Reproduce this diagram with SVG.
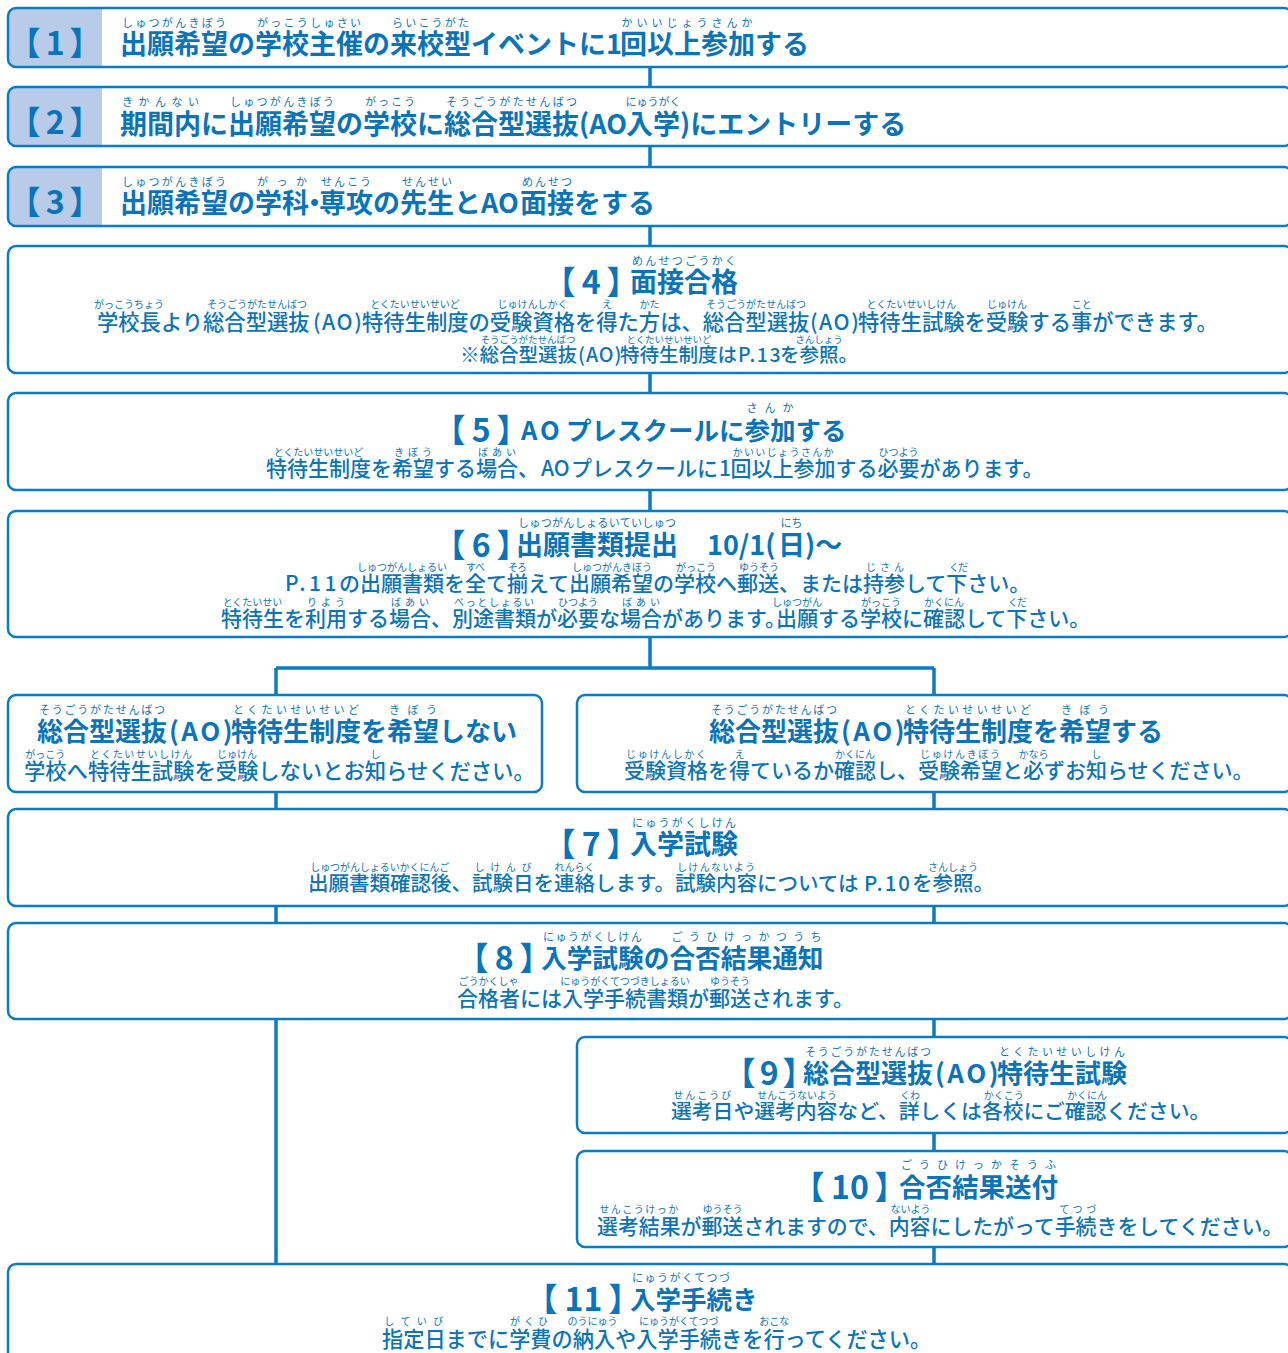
<svg xmlns="http://www.w3.org/2000/svg" width="1288" height="1353" viewBox="0 0 1288 1353">
<style>
text{font-family:"Noto Sans CJK JP","Noto Sans",sans-serif;fill:#0a74bb;dominant-baseline:central}
.bx{fill:none;stroke:#0b7bc2;stroke-width:2.5}
.lc{fill:#b8cbe9}
.ln{fill:none;stroke:#0b7bc2;stroke-width:3.5}
.lab{font-size:32px;font-weight:700}
.t{font-size:27px;font-weight:700}
.b{font-size:21px;font-weight:500}
.r{font-size:11px;text-anchor:middle}
.rs{font-size:10px;text-anchor:middle}
</style>
<rect width="1288" height="1353" fill="#fff"/>
<g id="connectors">
<path class="ln" d="M650,67V87M650,146V167M650,226V246M650,373V393M650,490V511M650,637V668M276,668H934M276,668V695M934,668V695M276,792V809M934,792V809M276,906V923M934,906V923M276,1019V1264M934,1019V1037M934,1133V1151M934,1247V1264"/>
</g>
<g id="n1">
<path class="lc" d="M102,8H16A8,8 0 0 0 8,16V59A8,8 0 0 0 16,67H102Z"/>
<rect class="bx" x="8" y="8" width="1284" height="59" rx="8"/>
<text class="lab" y="41"><tspan x="8.5">【</tspan><tspan x="45.75">1</tspan><tspan x="69.5">】</tspan></text>
<text class="t" y="42"><tspan x="120">出願希望の学校主催の来校型イベントに1</tspan><tspan x="620">回以上参加する</tspan></text>
<text class="r" x="174" y="22" textLength="104">しゅつがんきぼう</text>
<text class="r" x="309" y="22" textLength="104">がっこうしゅさい</text>
<text class="r" x="430.5" y="22" textLength="77">らいこうがた</text>
<text class="r" x="687" y="22" textLength="131">かいいじょうさんか</text>
</g>
<g id="n2">
<path class="lc" d="M102,87H16A8,8 0 0 0 8,95V138A8,8 0 0 0 16,146H102Z"/>
<rect class="bx" x="8" y="87" width="1284" height="59" rx="8"/>
<text class="lab" y="120"><tspan x="8.5">【</tspan><tspan x="45.75">2</tspan><tspan x="69.5">】</tspan></text>
<text class="t" y="122"><tspan x="120">期間内に出願希望の学校に総合型選抜(AO</tspan><tspan x="626">入学</tspan><tspan x="680">)にエントリーする</tspan></text>
<text class="r" x="160.5" y="101" textLength="77">きかんない</text>
<text class="r" x="282" y="101" textLength="104">しゅつがんきぼう</text>
<text class="r" x="390" y="101" textLength="50">がっこう</text>
<text class="r" x="511.5" y="101" textLength="131">そうごうがたせんばつ</text>
<text class="r" x="653" y="101">にゅうがく</text>
</g>
<g id="n3">
<path class="lc" d="M102,167H16A8,8 0 0 0 8,175V218A8,8 0 0 0 16,226H102Z"/>
<rect class="bx" x="8" y="167" width="1284" height="59" rx="8"/>
<text class="lab" y="200"><tspan x="8.5">【</tspan><tspan x="45.75">3</tspan><tspan x="69.5">】</tspan></text>
<text class="t" y="201"><tspan x="120">出願希望の学科</tspan><tspan x="301">・</tspan><tspan x="319">専攻の先生とAO</tspan><tspan x="520">面接をする</tspan></text>
<text class="r" x="174" y="181" textLength="104">しゅつがんきぼう</text>
<text class="r" x="282" y="181" textLength="50">がっか</text>
<text class="r" x="346" y="181" textLength="50">せんこう</text>
<text class="r" x="427" y="181" textLength="50">せんせい</text>
<text class="r" x="547" y="181" textLength="50">めんせつ</text>
</g>
<g id="n4">
<rect class="bx" x="8" y="246" width="1284" height="127" rx="8"/>
<text class="lab" y="280"><tspan x="543.5">【</tspan><tspan x="581.75">4</tspan><tspan x="606.5">】</tspan></text>
<text class="t" x="630" y="280">面接合格</text>
<text class="r" x="684" y="260" textLength="104">めんせつごうかく</text>
<text class="b" y="320" style="font-size:21.3px"><tspan x="97">学校長より総合型選抜</tspan><tspan x="313" letter-spacing="1.5">(AO)</tspan><tspan x="362">特待生制度の受験資格を得た方は、総合型選抜</tspan><tspan x="810" letter-spacing="1.5">(AO)</tspan><tspan x="858">特待生試験を受験する事ができます。</tspan></text>
<text class="rs" x="129" y="303">がっこうちょう</text>
<text class="rs" x="257" y="303">そうごうがたせんばつ</text>
<text class="rs" x="415" y="303">とくたいせいせいど</text>
<text class="rs" x="532.4" y="303">じゅけんしかく</text>
<text class="rs" x="607" y="303">え</text>
<text class="rs" x="649.5" y="303">かた</text>
<text class="rs" x="756" y="303">そうごうがたせんばつ</text>
<text class="rs" x="911.3" y="303">とくたいせいしけん</text>
<text class="rs" x="1007" y="303">じゅけん</text>
<text class="rs" x="1081.7" y="303">こと</text>
<text class="b" y="353" style="font-size:19.5px"><tspan x="460">※総合型選抜</tspan><tspan x="578" letter-spacing="1">(AO)</tspan><tspan x="620">特待生制度は</tspan><tspan x="738" letter-spacing="1.5">P.13</tspan><tspan x="780">を参照。</tspan></text>
<text class="rs" x="528" y="338.5" style="font-size:9.5px">そうごうがたせんばつ</text>
<text class="rs" x="669" y="338.5" style="font-size:9.5px">とくたいせいせいど</text>
<text class="rs" x="819" y="338.5" style="font-size:9.5px">さんしょう</text>
</g>
<g id="n5">
<rect class="bx" x="8" y="393" width="1284" height="97" rx="8"/>
<text class="lab" y="428"><tspan x="433.5">【</tspan><tspan x="471.75">5</tspan><tspan x="496.5">】</tspan></text>
<text class="t" y="428" style="font-size:25.5px"><tspan x="521" letter-spacing="3">AO</tspan><tspan x="566">プレスクールに参加する</tspan></text>
<text class="r" x="770" y="407" textLength="47">さんか</text>
<text class="b" y="467"><tspan x="266">特待生制度を希望する場合、</tspan><tspan x="541">AO</tspan><tspan x="571">プレスクールに</tspan><tspan x="719">1</tspan><tspan x="730.5">回以上参加する必要があります。</tspan></text>
<text class="rs" x="318.5" y="451.5">とくたいせいせいど</text>
<text class="rs" x="413" y="451.5" textLength="38">きぼう</text>
<text class="rs" x="497" y="451.5" textLength="38">ばあい</text>
<text class="rs" x="783" y="451.5" textLength="101">かいいじょうさんか</text>
<text class="rs" x="898.5" y="451.5">ひつよう</text>
</g>
<g id="n6">
<rect class="bx" x="8" y="511" width="1284" height="126" rx="8"/>
<text class="lab" y="543"><tspan x="433.5">【</tspan><tspan x="471.75">6</tspan><tspan x="496.5">】</tspan></text>
<text class="t" y="543"><tspan x="516">出願書類提出</tspan><tspan x="707">10/1(</tspan><tspan x="778">日</tspan><tspan x="805">)～</tspan></text>
<text class="r" x="597" y="521.5" textLength="158">しゅつがんしょるいていしゅつ</text>
<text class="r" x="791.5" y="521.5">にち</text>
<text class="b" y="582"><tspan x="285" letter-spacing="3.5">P.11</tspan><tspan x="339">の出願書類を全て揃えて出願希望の学校へ郵送、または持参して下さい。</tspan></text>
<text class="rs" x="402" y="566">しゅつがんしょるい</text>
<text class="rs" x="475.5" y="566" textLength="19">すべ</text>
<text class="rs" x="517.5" y="566" textLength="19">そろ</text>
<text class="rs" x="612" y="566">しゅつがんきぼう</text>
<text class="rs" x="696" y="566">がっこう</text>
<text class="rs" x="759" y="566">ゆうそう</text>
<text class="rs" x="885" y="566" textLength="38">じさん</text>
<text class="rs" x="958.5" y="566" textLength="19">くだ</text>
<text class="b" y="617"><tspan x="221">特待生を利用する場合、別途書類が必要な場合があります。</tspan><tspan x="776">出願する学校に確認して下さい。</tspan></text>
<text class="rs" x="252.5" y="601">とくたいせい</text>
<text class="rs" x="326" y="601" textLength="38">りよう</text>
<text class="rs" x="410" y="601" textLength="38">ばあい</text>
<text class="rs" x="494" y="601" textLength="80">べっとしょるい</text>
<text class="rs" x="578" y="601">ひつよう</text>
<text class="rs" x="641" y="601" textLength="38">ばあい</text>
<text class="rs" x="797" y="601">しゅつがん</text>
<text class="rs" x="881" y="601">がっこう</text>
<text class="rs" x="944" y="601">かくにん</text>
<text class="rs" x="1017.5" y="601" textLength="19">くだ</text>
</g>
<g id="nL">
<rect class="bx" x="8" y="695" width="534" height="97" rx="8"/>
<text class="t" y="729" style="font-size:26px"><tspan x="37">総合型選抜</tspan><tspan x="169" letter-spacing="2.5">(AO)</tspan><tspan x="231">特待生制度を希望しない</tspan></text>
<text class="r" x="102" y="709" textLength="126">そうごうがたせんばつ</text>
<text class="r" x="296" y="709" textLength="126">とくたいせいせいど</text>
<text class="r" x="413" y="709" textLength="48">きぼう</text>
<text class="b" x="24" y="769" style="font-size:21.3px">学校へ特待生試験を受験しないとお知らせください。</text>
<text class="rs" x="45.3" y="753">がっこう</text>
<text class="rs" x="141" y="753" textLength="102">とくたいせいしけん</text>
<text class="rs" x="237" y="753">じゅけん</text>
<text class="rs" x="375.5" y="753">し</text>
</g>
<g id="nR">
<rect class="bx" x="577" y="695" width="715" height="97" rx="8"/>
<text class="t" y="729" style="font-size:26px"><tspan x="709">総合型選抜</tspan><tspan x="841" letter-spacing="2.5">(AO)</tspan><tspan x="903">特待生制度を希望する</tspan></text>
<text class="r" x="774" y="709" textLength="126">そうごうがたせんばつ</text>
<text class="r" x="968" y="709" textLength="126">とくたいせいせいど</text>
<text class="r" x="1085" y="709" textLength="48">きぼう</text>
<text class="b" x="624" y="769">受験資格を得ているか確認し、受験希望と必ずお知らせください。</text>
<text class="rs" x="666" y="753" textLength="80">じゅけんしかく</text>
<text class="rs" x="739.5" y="753">え</text>
<text class="rs" x="855" y="753">かくにん</text>
<text class="rs" x="960" y="753" textLength="80">じゅけんきぼう</text>
<text class="rs" x="1033.5" y="753">かなら</text>
<text class="rs" x="1096.5" y="753">し</text>
</g>
<g id="n7">
<rect class="bx" x="8" y="809" width="1284" height="97" rx="8"/>
<text class="lab" y="842"><tspan x="543.5">【</tspan><tspan x="581.75">7</tspan><tspan x="606.5">】</tspan></text>
<text class="t" x="630" y="842">入学試験</text>
<text class="r" x="684" y="822" textLength="104">にゅうがくしけん</text>
<text class="b" y="882" style="font-size:20.5px"><tspan x="308">出願書類確認後、試験日を連絡します。試験内容については</tspan><tspan x="864" letter-spacing="2">P.10</tspan><tspan x="912">を参照。</tspan></text>
<text class="rs" x="379.75" y="866" textLength="139">しゅつがんしょるいかくにんご</text>
<text class="rs" x="503" y="866" textLength="57">しけんび</text>
<text class="rs" x="574.5" y="866">れんらく</text>
<text class="rs" x="716" y="866" textLength="78">しけんないよう</text>
<text class="rs" x="953" y="866">さんしょう</text>
</g>
<g id="n8">
<rect class="bx" x="8" y="923" width="1284" height="96" rx="8"/>
<text class="lab" y="956"><tspan x="456.5">【</tspan><tspan x="494.75">8</tspan><tspan x="519.5">】</tspan></text>
<text class="t" x="541" y="956" style="font-size:25.7px">入学試験の合否結果通知</text>
<text class="r" x="592.4" y="936" textLength="99">にゅうがくしけん</text>
<text class="r" x="746.6" y="936" textLength="150">ごうひけっかつうち</text>
<text class="b" x="457" y="997">合格者には入学手続書類が郵送されます。</text>
<text class="rs" x="488.5" y="980">ごうかくしゃ</text>
<text class="rs" x="625" y="980">にゅうがくてつづきしょるい</text>
<text class="rs" x="730" y="980">ゆうそう</text>
</g>
<g id="n9">
<rect class="bx" x="577" y="1037" width="715" height="96" rx="8"/>
<text class="lab" y="1071"><tspan x="723.5">【</tspan><tspan x="759.75">9</tspan><tspan x="782.5">】</tspan></text>
<text class="t" y="1071" style="font-size:26px"><tspan x="803">総合型選抜</tspan><tspan x="935" letter-spacing="2.5">(AO)</tspan><tspan x="997">特待生試験</tspan></text>
<text class="r" x="868" y="1051" textLength="126">そうごうがたせんばつ</text>
<text class="r" x="1062" y="1051" textLength="126">とくたいせいしけん</text>
<text class="b" x="671" y="1110" style="font-size:20.8px">選考日や選考内容など、詳しくは各校にご確認ください。</text>
<text class="rs" x="702.2" y="1094" textLength="58">せんこうび</text>
<text class="rs" x="796.8" y="1094">せんこうないよう</text>
<text class="rs" x="910" y="1094">くわ</text>
<text class="rs" x="1003.8" y="1094">かくこう</text>
<text class="rs" x="1087" y="1094">かくにん</text>
</g>
<g id="n10">
<rect class="bx" x="577" y="1151" width="715" height="96" rx="8"/>
<text class="lab" y="1185"><tspan x="792.5">【</tspan><tspan x="831">10</tspan><tspan x="874.5">】</tspan></text>
<text class="t" x="899" y="1185" style="font-size:26.5px">合否結果送付</text>
<text class="r" x="978.5" y="1164" textLength="155">ごうひけっかそうふ</text>
<text class="b" x="597" y="1225" style="font-size:20.9px">選考結果が郵送されますので、内容にしたがって手続きをしてください。</text>
<text class="rs" x="638.8" y="1208" textLength="79">せんこうけっか</text>
<text class="rs" x="722.4" y="1208">ゆうそう</text>
<text class="rs" x="910.5" y="1208">ないよう</text>
<text class="rs" x="1077.7" y="1208" textLength="37">てつづ</text>
</g>
<g id="n11">
<rect class="bx" x="8" y="1264" width="1284" height="100" rx="8"/>
<text class="lab" y="1297"><tspan x="525.5">【</tspan><tspan x="564.5">11</tspan><tspan x="608.5">】</tspan></text>
<text class="t" x="630" y="1297" style="font-size:25.5px">入学手続き</text>
<text class="r" x="681" y="1277" textLength="98">にゅうがくてつづ</text>
<text class="b" x="382" y="1337" style="font-size:21.2px">指定日までに学費の納入や入学手続きを行ってください。</text>
<text class="rs" x="413.8" y="1320" textLength="59">していび</text>
<text class="rs" x="529" y="1320" textLength="38">がくひ</text>
<text class="rs" x="592.6" y="1320">のうにゅう</text>
<text class="rs" x="678.8" y="1320">にゅうがくてつづ</text>
<text class="rs" x="774.2" y="1320">おこな</text>
</g>
</svg>
